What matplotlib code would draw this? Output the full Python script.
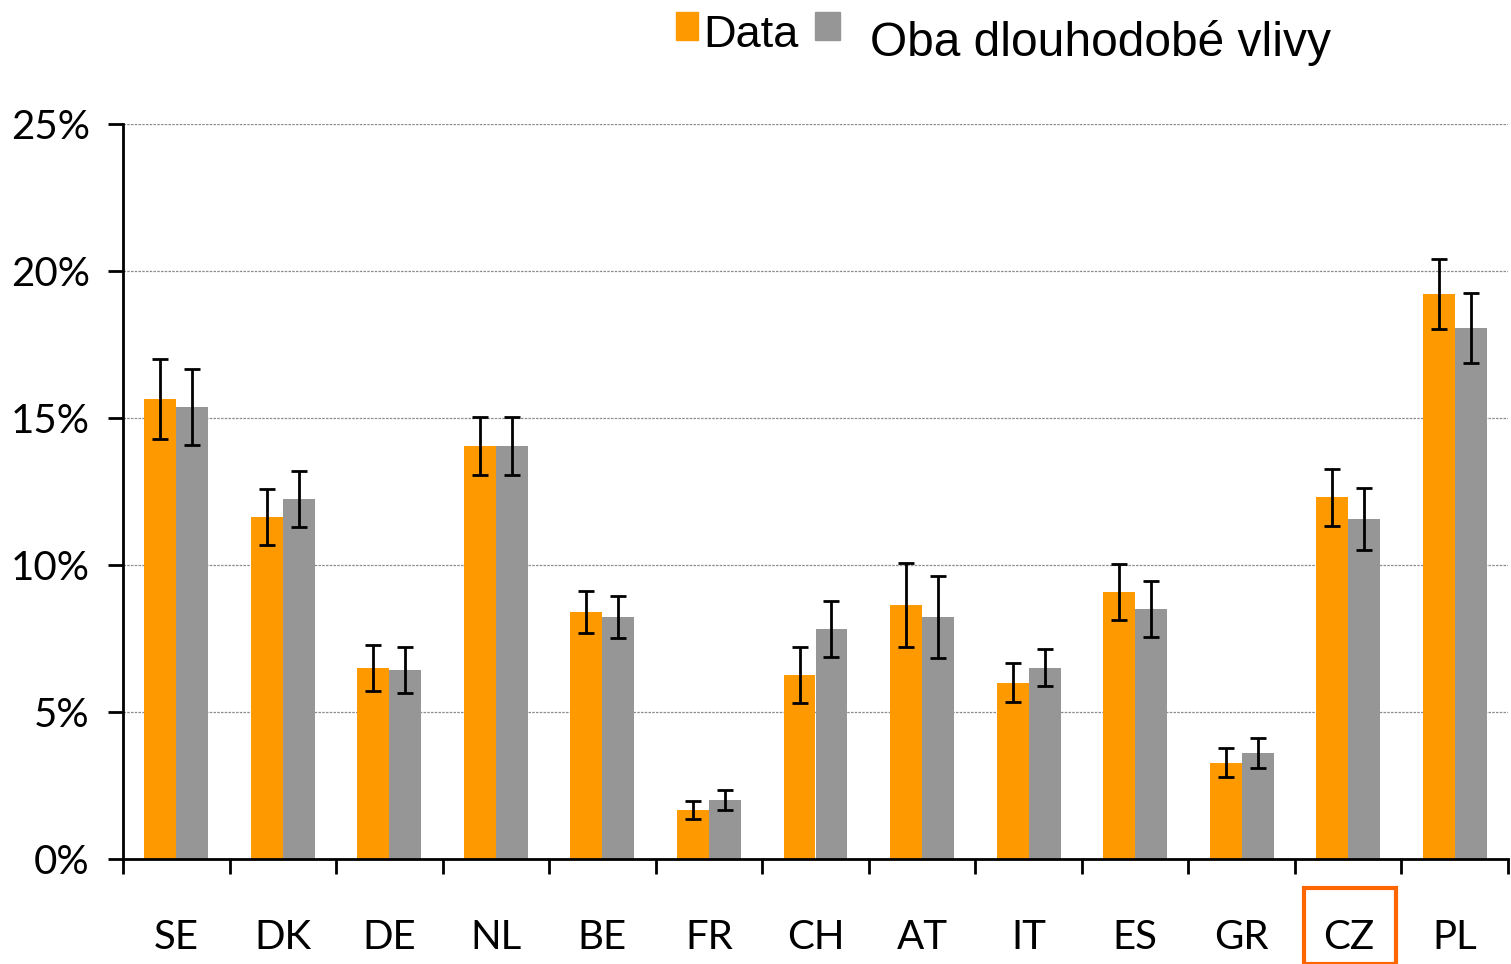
import matplotlib.pyplot as plt
from matplotlib.patches import Rectangle
from matplotlib.ticker import FixedLocator, FuncFormatter
import numpy as np

# country codes and values (percent)
countries = ["SE", "DK", "DE", "NL", "BE", "FR", "CH", "AT", "IT", "ES", "GR", "CZ", "PL"]
data_vals = [15.65, 11.63, 6.50, 14.05, 8.40, 1.67, 6.26, 8.64, 5.99, 9.08, 3.27, 12.31, 19.22]
data_err = [1.35, 0.95, 0.78, 1.00, 0.70, 0.30, 0.95, 1.43, 0.66, 0.95, 0.49, 0.97, 1.20]
model_vals = [15.37, 12.24, 6.43, 14.05, 8.23, 2.00, 7.82, 8.23, 6.50, 8.50, 3.60, 11.56, 18.06]
model_err = [1.30, 0.95, 0.78, 1.00, 0.70, 0.35, 0.95, 1.38, 0.63, 0.95, 0.51, 1.05, 1.20]
yticks = [0, 5, 10, 15, 20, 25]

orange = "#FF9900"
grey = "#969696"

fig = plt.figure(figsize=(15.11, 9.64), dpi=100)
ax = fig.add_axes([123 / 1511, 1 - 859 / 964, (1508 - 123) / 1511, (859 - 124) / 964])

x = np.arange(len(countries))
w = 0.3
ekw = dict(ecolor="black", elinewidth=2, capsize=6, capthick=2)
ax.bar(x - w / 2, data_vals, w, color=orange, yerr=data_err, error_kw=ekw, zorder=2)
ax.bar(x + w / 2, model_vals, w, color=grey, yerr=model_err, error_kw=ekw, zorder=2)

ax.set_xlim(-0.5, len(countries) - 0.5)
ax.set_ylim(0, 25)
ax.set_yticks(yticks)
ax.yaxis.set_major_formatter(FuncFormatter(lambda v, p: f"{v:.0f}%"))
ax.yaxis.grid(True, color="#8c8c8c", linestyle=(0, (2, 1)), linewidth=0.9, zorder=0)
ax.set_axisbelow(True)

ax.set_xticks(x)
ax.set_xticklabels(countries)
ax.xaxis.set_minor_locator(FixedLocator(np.arange(-0.5, len(countries), 1.0)))
ax.tick_params(axis="x", which="major", length=0, pad=43, labelsize=29)
ax.tick_params(axis="x", which="minor", length=11, width=2, direction="out")
ax.tick_params(axis="y", length=11, width=2, direction="out", pad=13, labelsize=29)
for lab in ax.get_xticklabels() + ax.get_yticklabels():
    lab.set_fontfamily("Lato")

for s in ["top", "right"]:
    ax.spines[s].set_visible(False)
ax.spines["left"].set_linewidth(2)
ax.spines["bottom"].set_linewidth(2)

# highlight box around CZ label
fig.patches.append(Rectangle((1304 / 1511, 1 - 964 / 964), (1396 - 1304) / 1511, (964 - 888) / 964,
                             transform=fig.transFigure, fill=False, edgecolor="#FF6600", linewidth=3))

# legend drawn by hand
fig.patches.append(Rectangle((676 / 1511, 1 - 40 / 964), 22 / 1511, 28 / 964,
                             transform=fig.transFigure, color=orange))
fig.patches.append(Rectangle((815 / 1511, 1 - 40 / 964), 25 / 1511, 28 / 964,
                             transform=fig.transFigure, color=grey))
fig.text(703 / 1511, 1 - 47 / 964, "Data", fontsize=32.5, family="Liberation Sans", va="baseline")
fig.text(870 / 1511, 1 - 56 / 964, "Oba dlouhodobé vlivy", fontsize=34.5, family="Liberation Sans", va="baseline")

fig.savefig("out.png", dpi=100)
